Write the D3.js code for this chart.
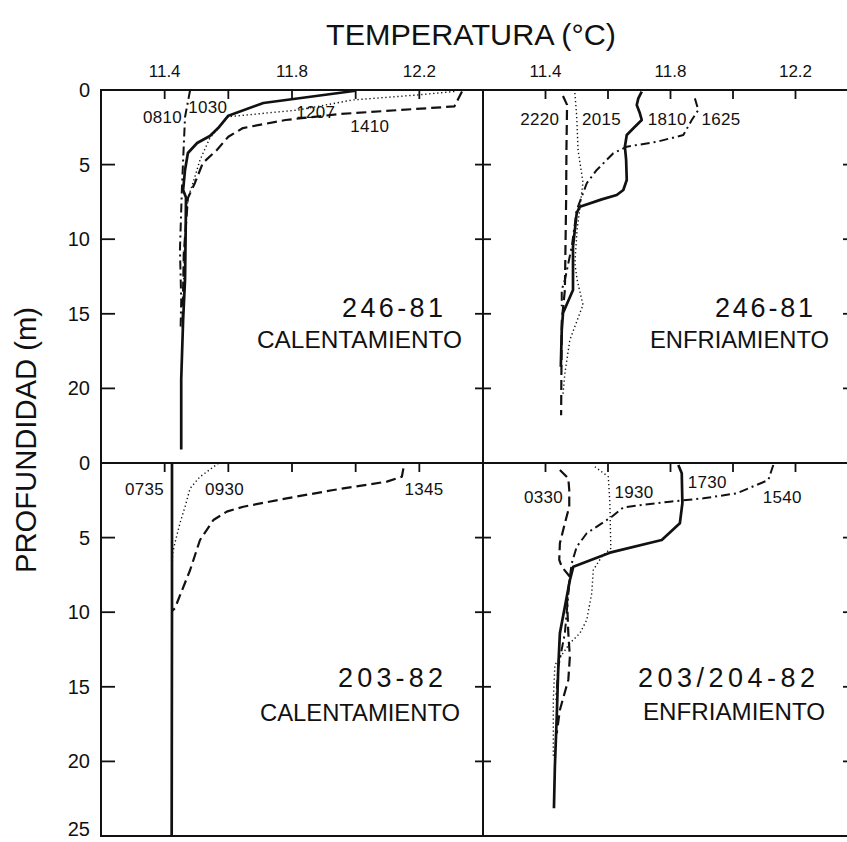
<!DOCTYPE html>
<html>
<head>
<meta charset="utf-8">
<script src="https://cdn.jsdelivr.net/npm/d3@7"></script>
<style>
  body { margin: 0; background: #fff; }
  svg { display: block; }
  text { font-family: "Liberation Sans", Arial, sans-serif; fill: #111; }
</style>
</head>
<body>
<div id="chart"></div>
<script>

// ---- axis values ----
var tempTicks = [11.4, 11.6, 11.8, 12.0, 12.2];
var tempLabels = ["11.4", "11.8", "12.2"];
var depthTicks = [5, 10, 15, 20];
var depthLabelsTop = [0, 5, 10, 15, 20];
var depthLabelsBottom = [0, 5, 10, 15, 20, 25];

// ---- profiles, [temperatura, profundidad] ----
// 246-81 calentamiento
var heat246_dashdot = [[11.48,0],[11.464,1.81],[11.458,4.69],[11.454,6.7],[11.448,10.7],[11.452,14.1],[11.45,16]];
var heat246_solid = [[12.0,0.05],[11.71,0.87],[11.6,1.72],[11.568,2.55],[11.542,3.08],[11.502,3.55],[11.473,4.22],[11.464,5.36],[11.458,6.7],[11.467,7.2],[11.466,9.4],[11.464,12.7],[11.458,15.4],[11.452,19.4],[11.452,24.1]];
var heat246_dotted = [[12.31,0.1],[12.19,0.34],[11.99,0.67],[11.82,1.34],[11.6,1.79],[11.542,3.22],[11.511,4.69],[11.489,6.23],[11.473,7.24],[11.462,10.5],[11.458,14.5]];
var heat246_dashed = [[12.334,0.1],[12.31,1.1],[12.19,1.27],[11.95,1.61],[11.78,2.01],[11.646,2.55],[11.6,3.13],[11.564,4.02],[11.52,4.89],[11.495,6.23],[11.473,7.24],[11.46,11],[11.456,15.9]];
var heat246_labels = [["0810",11.393,2.2],["1030",11.535,1.54],["1207",11.875,1.88],["1410",12.044,2.81]];

// 246-81 enfriamiento
var cool246_dashed = [[11.456,0.4],[11.469,1],[11.467,4],[11.466,7.4],[11.462,13.4],[11.452,15.5],[11.45,21.8]];
var cool246_dotted = [[11.494,0.2],[11.5,1.8],[11.504,4.0],[11.52,6.2],[11.501,9.4],[11.494,11.6],[11.501,12.7],[11.52,14.4],[11.478,16.75],[11.462,19],[11.456,20.4]];
var cool246_solid = [[11.708,0.11],[11.697,0.56],[11.692,1.01],[11.702,1.56],[11.708,2.01],[11.686,2.46],[11.66,3.02],[11.654,3.8],[11.658,4.69],[11.66,6.03],[11.649,6.7],[11.628,7.04],[11.58,7.33],[11.51,7.82],[11.5,8.24],[11.488,10.5],[11.488,13.4],[11.456,14.95],[11.452,16.1],[11.449,18.55]];
var cool246_dashdot = [[11.878,0.56],[11.889,1.34],[11.868,2.01],[11.841,3.02],[11.756,3.47],[11.66,3.8],[11.617,4.24],[11.564,5.36],[11.532,6.25],[11.516,7.15],[11.5,8.04],[11.484,10.5],[11.462,12.73],[11.452,13.4],[11.452,14.5]];
var cool246_labels = [["2220",11.382,2.35],["2015",11.579,2.35],["1810",11.79,2.35],["1625",11.962,2.35]];

// 203-82 calentamiento
var heat203_solid = [[11.423,0],[11.423,10],[11.422,25]];
var heat203_dotted = [[11.569,0.02],[11.511,0.92],[11.48,1.7],[11.464,2.93],[11.448,4.04],[11.432,5.38],[11.425,6.05],[11.423,7.37]];
var heat203_dashed = [[12.15,0.36],[12.145,0.92],[12.098,1.25],[11.93,1.81],[11.783,2.37],[11.647,2.93],[11.595,3.26],[11.553,3.82],[11.511,5.16],[11.48,7.17],[11.432,9.74],[11.423,9.92]];
var heat203_labels = [["0735",11.337,2.14],["0930",11.588,2.14],["1345",12.215,2.14]];

// 203/204-82 enfriamiento
var cool203_dashed = [[11.446,0.47],[11.473,1.03],[11.476,1.81],[11.476,2.93],[11.462,4.04],[11.446,5.38],[11.444,6.5],[11.452,6.95],[11.478,7.62],[11.469,9.18],[11.473,11.41],[11.478,12.98],[11.473,14.54],[11.446,16.55],[11.436,18.12]];
var cool203_dotted = [[11.558,0.25],[11.601,0.92],[11.606,2.7],[11.609,5.72],[11.58,6.28],[11.553,7.17],[11.548,8.73],[11.532,10.52],[11.51,11.41],[11.478,12.08],[11.43,13.54],[11.425,15.88],[11.425,18.1],[11.425,19.68]];
var cool203_solid = [[11.825,0.13],[11.836,0.69],[11.838,2.7],[11.83,4.04],[11.772,5.16],[11.606,6.01],[11.489,6.95],[11.478,7.86],[11.468,8.96],[11.446,11.41],[11.441,13.65],[11.436,17.0],[11.43,20.36],[11.427,23.14]];
var cool203_dashdot = [[12.129,0.13],[12.113,1.14],[12.012,2.03],[11.905,2.37],[11.798,2.59],[11.649,2.97],[11.612,3.6],[11.532,4.71],[11.5,5.61],[11.484,6.72],[11.478,7.62],[11.462,11.41],[11.441,13.65],[11.434,15.88]];
var cool203_labels = [["0330",11.394,2.68],["1930",11.683,2.35],["1730",11.918,1.68],["1540",12.158,2.68]];


var width = 847;
var height = 842;

var lineStyles = {
  solid:   { w: 2.7, dash: null },
  dashed:  { w: 2.2, dash: "10,5" },
  dashdot: { w: 2.0, dash: "9,4,2,4" },
  dotted:  { w: 1.4, dash: "1.3,2.7" }
};

var panels = [
  { x0: 101, x1: 483, y0: 90, y1: 463, top: true, left: true,
    profiles: [[heat246_dashdot, "dashdot"], [heat246_solid, "solid"], [heat246_dotted, "dotted"], [heat246_dashed, "dashed"]],
    labels: heat246_labels,
    title: ["246-81", 342, 101, 317], sub: ["CALENTAMIENTO", 257, 205, 348] },
  { x0: 483, x1: 858, y0: 90, y1: 463, top: true, left: false,
    profiles: [[cool246_dashed, "dashed"], [cool246_dotted, "dotted"], [cool246_solid, "solid"], [cool246_dashdot, "dashdot"]],
    labels: cool246_labels,
    title: ["246-81", 715, 98, 317], sub: ["ENFRIAMIENTO", 650, 179, 348] },
  { x0: 101, x1: 483, y0: 463, y1: 836, top: false, left: true,
    profiles: [[heat203_solid, "solid"], [heat203_dotted, "dotted"], [heat203_dashed, "dashed"]],
    labels: heat203_labels,
    title: ["203-82", 338, 105, 687], sub: ["CALENTAMIENTO", 260, 200, 721] },
  { x0: 483, x1: 858, y0: 463, y1: 836, top: false, left: false,
    profiles: [[cool203_dashed, "dashed"], [cool203_dotted, "dotted"], [cool203_solid, "solid"], [cool203_dashdot, "dashdot"]],
    labels: cool203_labels,
    title: ["203/204-82", 638, 177, 687], sub: ["ENFRIAMIENTO", 643, 182, 720] }
];

var svg = d3.select("#chart")
    .append("svg")
    .attr("width", width)
    .attr("height", height);

// marco
var frame = svg.append("g")
    .attr("stroke", "#111")
    .attr("stroke-width", 2)
    .attr("fill", "none");

frame.append("line").attr("x1", 100).attr("x2", width).attr("y1", 90).attr("y2", 90);
frame.append("line").attr("x1", 100).attr("x2", width).attr("y1", 463).attr("y2", 463);
frame.append("line").attr("x1", 100).attr("x2", width).attr("y1", 836).attr("y2", 836);
frame.append("line").attr("x1", 101).attr("x2", 101).attr("y1", 89).attr("y2", 837);
frame.append("line").attr("x1", 483).attr("x2", 483).attr("y1", 89).attr("y2", 837);

panels.forEach(function (p) {

  var x = d3.scaleLinear().domain([11.2, 12.4]).range([p.x0, p.x1]);
  var y = d3.scaleLinear().domain([0, 25]).range([p.y0, p.y1]);

  var g = svg.append("g");

  // ticks de temperatura
  g.selectAll(".tt")
      .data(tempTicks)
      .enter().append("line")
      .attr("x1", function (d) { return x(d); })
      .attr("x2", function (d) { return x(d); })
      .attr("y1", p.y0)
      .attr("y2", p.y0 + 9)
      .attr("stroke", "#111")
      .attr("stroke-width", 1.8);

  // ticks de profundidad
  g.selectAll(".dt")
      .data(depthTicks)
      .enter().append("line")
      .attr("x1", p.left ? p.x0 : p.x0 - 8)
      .attr("x2", p.left ? p.x0 + 14 : p.x0 + 8)
      .attr("y1", function (d) { return y(d); })
      .attr("y2", function (d) { return y(d); })
      .attr("stroke", "#111")
      .attr("stroke-width", 1.8);

  if (!p.left) {
    g.selectAll(".dr")
        .data(depthTicks)
        .enter().append("line")
        .attr("x1", p.x1 - 15)
        .attr("x2", p.x1)
        .attr("y1", function (d) { return y(d); })
        .attr("y2", function (d) { return y(d); })
        .attr("stroke", "#111")
        .attr("stroke-width", 1.8);
  }

  if (p.top) {
    g.selectAll(".tl")
        .data(tempLabels)
        .enter().append("text")
        .attr("x", function (d) { return x(+d); })
        .attr("y", 77)
        .attr("text-anchor", "middle")
        .attr("font-size", 17)
        .text(function (d) { return d; });
  }

  if (p.left) {
    g.selectAll(".dl")
        .data(p.top ? depthLabelsTop : depthLabelsBottom)
        .enter().append("text")
        .attr("x", 90)
        .attr("y", function (d) { return Math.min(y(d) + 7, 836); })
        .attr("text-anchor", "end")
        .attr("font-size", 20)
        .text(function (d) { return d; });
  }

  // perfiles
  var line = d3.line()
      .x(function (d) { return x(d[0]); })
      .y(function (d) { return y(d[1]); });

  p.profiles.forEach(function (pr) {
    var st = lineStyles[pr[1]];
    g.append("path")
        .datum(pr[0])
        .attr("d", line)
        .attr("fill", "none")
        .attr("stroke", "#111")
        .attr("stroke-width", st.w)
        .attr("stroke-linejoin", "round")
        .attr("stroke-dasharray", st.dash);
  });

  // horas
  g.selectAll(".hr")
      .data(p.labels)
      .enter().append("text")
      .attr("x", function (d) { return x(d[1]); })
      .attr("y", function (d) { return y(d[2]); })
      .attr("text-anchor", "middle")
      .attr("font-size", 17)
      .attr("letter-spacing", 0.3)
      .text(function (d) { return d[0]; });

  g.append("text")
      .attr("x", p.title[1])
      .attr("y", p.title[3])
      .attr("font-family", "'DejaVu Sans', sans-serif")
      .attr("font-size", 27)
      .attr("textLength", p.title[2])
      .attr("lengthAdjust", "spacing")
      .text(p.title[0]);

  g.append("text")
      .attr("x", p.sub[1])
      .attr("y", p.sub[3])
      .attr("font-size", 23)
      .attr("textLength", p.sub[2])
      .attr("lengthAdjust", "spacingAndGlyphs")
      .text(p.sub[0]);
});

// titulos de ejes
svg.append("text")
    .attr("x", 471)
    .attr("y", 45)
    .attr("text-anchor", "middle")
    .attr("font-size", 29)
    .attr("textLength", 290)
    .attr("lengthAdjust", "spacingAndGlyphs")
    .text("TEMPERATURA (°C)");

svg.append("text")
    .attr("transform", "translate(36,440) rotate(-90)")
    .attr("text-anchor", "middle")
    .attr("font-size", 29)
    .attr("textLength", 266)
    .attr("lengthAdjust", "spacingAndGlyphs")
    .text("PROFUNDIDAD (m)");

</script>
</body>
</html>
